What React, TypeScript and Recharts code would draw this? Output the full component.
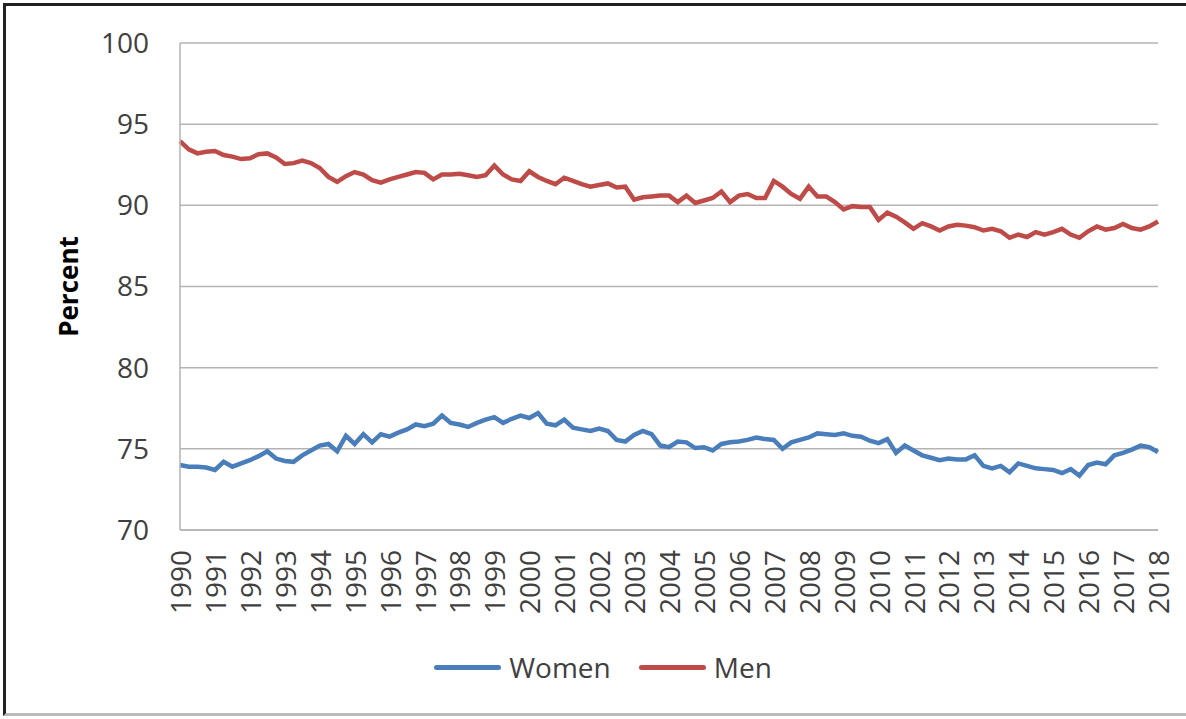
import { LineChart, Line, XAxis, YAxis, CartesianGrid, Label } from "recharts";

// Quarterly readings, starting Jan 1990, ending Jan 2018
const START_YEAR = 1990;
const STEPS_PER_YEAR = 4;

const yearTicks = [
    1990, 1991, 1992, 1993, 1994, 1995, 1996, 1997, 1998, 1999, 2000, 2001, 2002, 2003, 2004,
    2005, 2006, 2007, 2008, 2009, 2010, 2011, 2012, 2013, 2014, 2015, 2016, 2017, 2018,
];
const percentTicks = [70, 75, 80, 85, 90, 95, 100];

const seriesNames = ["Women", "Men"];
const seriesColors = ["#4A7EBB", "#BE4B48"];

const women = [
    74.0, 73.9, 73.9, 73.85, // 1990
    73.7, 74.2, 73.9, 74.1, // 1991
    74.3, 74.55, 74.85, 74.4, // 1992
    74.25, 74.2, 74.6, 74.9, // 1993
    75.2, 75.3, 74.85, 75.8, // 1994
    75.3, 75.9, 75.4, 75.9, // 1995
    75.75, 76.0, 76.2, 76.5, // 1996
    76.4, 76.55, 77.05, 76.6, // 1997
    76.5, 76.35, 76.6, 76.8, // 1998
    76.95, 76.6, 76.85, 77.05, // 1999
    76.9, 77.2, 76.55, 76.45, // 2000
    76.8, 76.3, 76.2, 76.1, // 2001
    76.25, 76.1, 75.55, 75.45, // 2002
    75.85, 76.1, 75.9, 75.2, // 2003
    75.1, 75.45, 75.4, 75.05, // 2004
    75.1, 74.9, 75.3, 75.4, // 2005
    75.45, 75.55, 75.7, 75.6, // 2006
    75.55, 75.0, 75.4, 75.55, // 2007
    75.7, 75.95, 75.9, 75.85, // 2008
    75.95, 75.8, 75.75, 75.5, // 2009
    75.35, 75.6, 74.75, 75.2, // 2010
    74.9, 74.6, 74.45, 74.3, // 2011
    74.4, 74.35, 74.35, 74.6, // 2012
    73.95, 73.8, 73.95, 73.55, // 2013
    74.1, 73.95, 73.8, 73.75, // 2014
    73.7, 73.5, 73.75, 73.35, // 2015
    74.0, 74.15, 74.05, 74.6, // 2016
    74.75, 74.95, 75.2, 75.1, // 2017
    74.8, // 2018
];

const men = [
    93.95, 93.45, 93.2, 93.3, // 1990
    93.35, 93.1, 93.0, 92.85, // 1991
    92.9, 93.15, 93.2, 92.95, // 1992
    92.55, 92.6, 92.75, 92.6, // 1993
    92.3, 91.75, 91.45, 91.8, // 1994
    92.05, 91.9, 91.55, 91.4, // 1995
    91.6, 91.75, 91.9, 92.05, // 1996
    92.0, 91.6, 91.9, 91.9, // 1997
    91.95, 91.85, 91.75, 91.85, // 1998
    92.45, 91.9, 91.6, 91.5, // 1999
    92.1, 91.75, 91.5, 91.3, // 2000
    91.7, 91.5, 91.3, 91.15, // 2001
    91.25, 91.35, 91.1, 91.15, // 2002
    90.35, 90.5, 90.55, 90.6, // 2003
    90.6, 90.2, 90.6, 90.15, // 2004
    90.3, 90.45, 90.85, 90.2, // 2005
    90.6, 90.7, 90.45, 90.45, // 2006
    91.5, 91.15, 90.7, 90.4, // 2007
    91.15, 90.55, 90.55, 90.2, // 2008
    89.75, 89.95, 89.9, 89.9, // 2009
    89.1, 89.55, 89.3, 88.95, // 2010
    88.55, 88.9, 88.7, 88.45, // 2011
    88.7, 88.8, 88.75, 88.65, // 2012
    88.45, 88.55, 88.4, 88.0, // 2013
    88.2, 88.05, 88.35, 88.2, // 2014
    88.35, 88.55, 88.2, 88.0, // 2015
    88.4, 88.7, 88.5, 88.6, // 2016
    88.85, 88.6, 88.5, 88.7, // 2017
    89.0, // 2018
];

const data = women.map((w, i) => ({
    t: START_YEAR + i / STEPS_PER_YEAR,
    Women: w,
    Men: men[i],
}));

const FONT = "'Open Sans', sans-serif";
const TEXT = "#404040";

function YearTick({ x, y, payload }: any) {
    const ty = y + 20;
    return (
        <text
            x={x}
            y={ty}
            transform={`rotate(-90, ${x}, ${ty})`}
            textAnchor="end"
            dominantBaseline="central"
            fontFamily={FONT}
            fontSize={28}
            fill={TEXT}
        >
            {payload.value}
        </text>
    );
}

function ChartLegend() {
    return (
        <div
            style={{
                position: "absolute",
                top: 648,
                left: 0,
                width: 1186,
                display: "flex",
                justifyContent: "center",
                gap: 28,
                paddingLeft: 20,
                boxSizing: "border-box",
                fontFamily: FONT,
                fontSize: 28,
                color: TEXT,
            }}
        >
            {seriesNames.map((name, i) => (
                <div key={name} style={{ display: "flex", alignItems: "center", gap: 8 }}>
                    <span
                        style={{
                            display: "inline-block",
                            width: 67,
                            height: 5,
                            borderRadius: 3,
                            background: seriesColors[i],
                        }}
                    />
                    <span>{name}</span>
                </div>
            ))}
        </div>
    );
}

export default function App() {
    return (
        <div
            style={{
                position: "absolute",
                top: 0,
                left: 0,
                width: 1186,
                height: 719,
                background: "#fff",
            }}
        >
            {/* frame around the chart */}
            <div
                style={{
                    position: "absolute",
                    top: 3,
                    left: 3,
                    width: 1183,
                    height: 713,
                    borderTop: "3px solid #222",
                    borderLeft: "3px solid #222",
                    borderBottom: "3px solid #bbb",
                    boxSizing: "border-box",
                }}
            />
            <LineChart
                width={1186}
                height={719}
                data={data}
                margin={{ top: 43, right: 28, left: 0, bottom: 0 }}
                style={{ position: "absolute", top: 0, left: 0 }}
            >
                <CartesianGrid vertical={false} stroke="#b3b3b3" strokeWidth={1.5} />
                <XAxis
                    dataKey="t"
                    type="number"
                    domain={[1990, 2018]}
                    ticks={yearTicks}
                    interval={0}
                    tickLine={false}
                    tickSize={0}
                    tickMargin={0}
                    axisLine={{ stroke: "#b3b3b3", strokeWidth: 1.5 }}
                    tick={<YearTick />}
                    height={189}
                />
                <YAxis
                    domain={[70, 100]}
                    ticks={percentTicks}
                    interval={0}
                    width={180}
                    tickLine={false}
                    tickSize={0}
                    tickMargin={31}
                    axisLine={{ stroke: "#b3b3b3", strokeWidth: 1.5 }}
                    tick={{ fontFamily: FONT, fontSize: 28, fill: TEXT }}
                >
                    <Label
                        content={({ viewBox }: any) => {
                            const cx = 68;
                            const cy = viewBox.y + viewBox.height / 2;
                            return (
                                <text
                                    x={cx}
                                    y={cy}
                                    transform={`rotate(-90, ${cx}, ${cy})`}
                                    textAnchor="middle"
                                    dominantBaseline="central"
                                    fontFamily={FONT}
                                    fontWeight="bold"
                                    fontSize={26}
                                    fill="#000"
                                >
                                    Percent
                                </text>
                            );
                        }}
                    />
                </YAxis>
                {seriesNames.map((name, i) => (
                    <Line
                        key={name}
                        type="linear"
                        dataKey={name}
                        stroke={seriesColors[i]}
                        strokeWidth={4.5}
                        dot={false}
                        isAnimationActive={false}
                    />
                ))}
            </LineChart>
            <ChartLegend />
        </div>
    );
}
